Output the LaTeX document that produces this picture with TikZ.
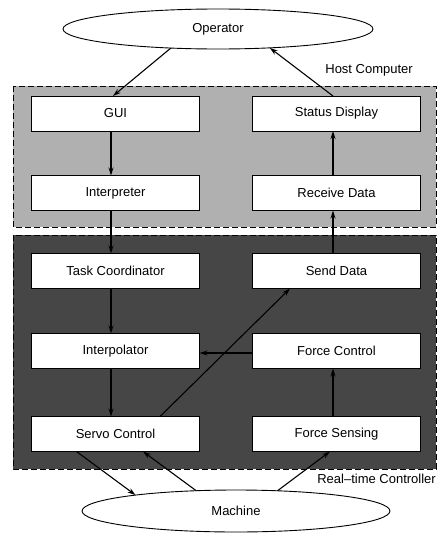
\documentclass[tikz,border=0pt]{standalone}
\usepackage{fontspec}
\setmainfont{Liberation Sans}
\usetikzlibrary{shapes.geometric,arrows.meta}

\definecolor{hostfill}{RGB}{176,176,176}
\definecolor{rtfill}{RGB}{70,70,70}

\tikzset{
  box/.style={draw, fill=white, line width=0.9pt, minimum width=168pt,
    minimum height=35pt, inner sep=0pt, outer sep=0pt,
    font=\fontsize{13}{15}\selectfont},
  actor/.style={ellipse, draw, fill=white, line width=0.9pt, inner sep=0pt,
    outer sep=0pt, font=\fontsize{13}{15}\selectfont},
  zone/.style={line width=1pt, dash pattern=on 6pt off 3pt},
  flow/.style={line width=1.1pt, -{Stealth[length=8pt,width=5pt]}},
  tag/.style={font=\fontsize{13}{15}\selectfont, inner sep=0pt, anchor=east}
}

\begin{document}
\begin{tikzpicture}[x=1pt, y=-1pt]
  \useasboundingbox (0,0) rectangle (438,533);

  % subsystem zones
  \fill[hostfill] (13,86) rectangle (436,227);
  \draw[zone] (13,86) rectangle (436,227);
  \fill[rtfill] (13,235) rectangle (436,469);
  \draw[zone] (13,235) rectangle (436,469);

  \node[tag] (hostlbl) at (413,70) {Host Computer};
  \node[tag] (rtlbl) at (436,479) {Real--time Controller};

  % external actors
  \node[actor, minimum width=310pt, minimum height=40pt] (Operator) at (218,29) {Operator};
  \node[actor, minimum width=308pt, minimum height=42pt] (Machine) at (236,511) {Machine};

  % host computer modules
  \node[box] (GUI) at (115.5,113.5) {GUI};
  \node[box] (Status) at (336.5,113.5) {Status Display};
  \node[box] (Interp) at (115.5,193) {Interpreter};
  \node[box] (Recv) at (336.5,193) {Receive Data};

  % real-time controller modules
  \node[box] (Task) at (115.5,271) {Task Coordinator};
  \node[box] (Send) at (336.5,271) {Send Data};
  \node[box] (Interpol) at (115.5,351) {Interpolator};
  \node[box] (ForceCtl) at (336.5,351) {Force Control};
  \node[box] (Servo) at (115.5,434) {Servo Control};
  \node[box] (ForceSns) at (336.5,434) {Force Sensing};

  % command path
  \draw[flow] (Operator.202) -- ([xshift=-2.5pt]GUI.north);
  \draw[flow] ([xshift=-4.5pt]GUI.south) -- ([xshift=-4.5pt]Interp.north);
  \draw[flow] ([xshift=-4.5pt]Interp.south) -- ([xshift=-4.5pt]Task.north);
  \draw[flow] ([xshift=-4.5pt]Task.south) -- ([xshift=-4.5pt]Interpol.north);
  \draw[flow] ([xshift=-4.5pt]Interpol.south) -- ([xshift=-4.5pt]Servo.north);
  \draw[flow] ([xshift=-39pt]Servo.south) -- (Machine.171);

  % feedback path
  \draw[flow] (Machine.153) -- ([xshift=27.5pt]Servo.south);
  \draw[flow] (Machine.26) -- ([xshift=-6.5pt]ForceSns.south);
  \draw[flow] ([xshift=-3.5pt]ForceSns.north) -- ([xshift=-3.5pt]ForceCtl.south);
  \draw[flow] ([yshift=-2pt]ForceCtl.west) -- ([yshift=-2pt]Interpol.east);
  \draw[flow] ([xshift=44.5pt]Servo.north) -- ([xshift=-46.5pt]Send.south);
  \draw[flow] ([xshift=-3.5pt]Send.north) -- ([xshift=-3.5pt]Recv.south);
  \draw[flow] ([xshift=-3.5pt]Recv.north) -- ([xshift=-3.5pt]Status.south);
  \draw[flow] ([xshift=-3.5pt]Status.north) -- (Operator.340);
\end{tikzpicture}
\end{document}
